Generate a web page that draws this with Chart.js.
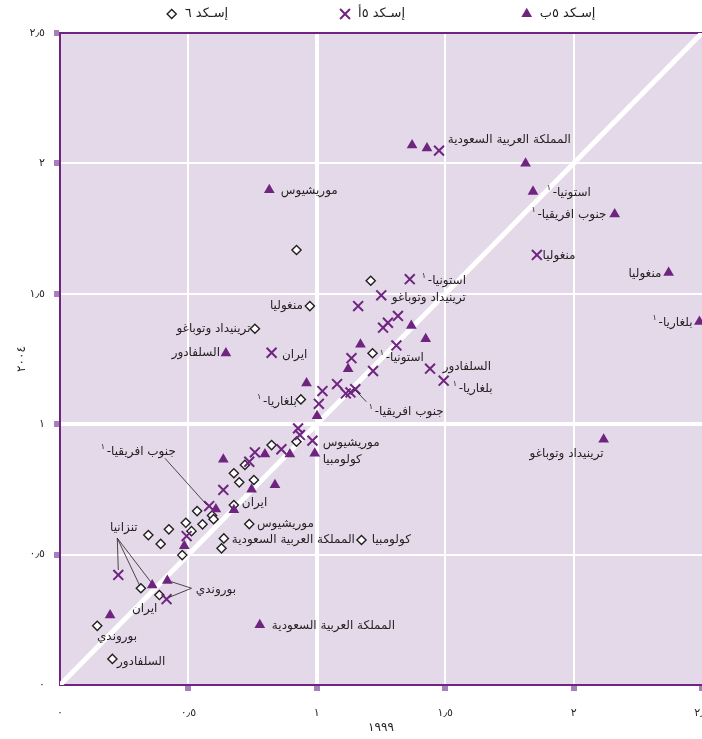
<!DOCTYPE html>
<html>
<head>
<meta charset="utf-8">
<script src="https://cdn.jsdelivr.net/npm/chart.js@4/dist/chart.umd.min.js"></script>
<style>
  html, body { margin: 0; padding: 0; background: #fff; }
  #wrap { width: 702px; height: 739px; position: relative; }
</style>
</head>
<body>
<div id="wrap"><canvas id="chart"></canvas></div>
<script>
// values: [1999, 2004]
const isced6 = [
  [0.921, 1.668], [1.210, 1.550], [0.973, 1.453], [0.759, 1.366], [1.217, 1.272],
  [0.938, 1.095], [0.921, 0.933], [0.824, 0.920], [0.720, 0.844], [0.677, 0.812],
  [0.698, 0.777], [0.755, 0.786], [0.677, 0.690], [0.592, 0.650], [0.598, 0.636],
  [0.534, 0.667], [0.490, 0.622], [0.555, 0.616], [0.512, 0.590], [0.424, 0.597],
  [0.344, 0.575], [0.392, 0.541], [0.476, 0.498], [0.629, 0.524], [0.638, 0.562],
  [0.737, 0.617], [1.174, 0.556], [0.315, 0.371], [0.387, 0.345], [0.145, 0.227],
  [0.204, 0.100]
];
const isced5a = [
  [1.476, 2.049], [1.857, 1.649], [1.362, 1.556], [1.251, 1.494], [1.161, 1.453],
  [1.316, 1.415], [1.277, 1.389], [1.258, 1.370], [1.310, 1.302], [0.824, 1.274],
  [1.135, 1.253], [1.219, 1.204], [1.441, 1.213], [1.494, 1.167], [1.079, 1.154],
  [1.022, 1.127], [1.113, 1.118], [1.131, 1.122], [1.150, 1.134], [1.008, 1.078],
  [0.927, 0.984], [0.934, 0.959], [0.983, 0.937], [0.862, 0.904], [0.759, 0.892],
  [0.737, 0.856], [0.636, 0.748], [0.581, 0.686], [0.493, 0.571], [0.227, 0.422],
  [0.415, 0.329]
];
const isced5b = [
  [1.371, 2.070], [1.429, 2.058], [1.813, 2.000], [1.842, 1.892], [2.160, 1.805],
  [2.370, 1.581], [2.490, 1.393], [0.815, 1.898], [1.368, 1.378], [1.424, 1.327],
  [1.170, 1.306], [0.646, 1.272], [1.122, 1.212], [0.960, 1.157], [1.001, 1.032],
  [2.117, 0.942], [0.636, 0.865], [0.798, 0.885], [0.895, 0.885], [0.992, 0.888],
  [0.837, 0.767], [0.746, 0.750], [0.607, 0.674], [0.677, 0.671], [0.484, 0.533],
  [0.359, 0.383], [0.418, 0.400], [0.195, 0.268], [0.778, 0.230]
];
const diagonal = [0, 2.5];
const tickLabels = ['٠', '٠٫٥', '١', '١٫٥', '٢', '٢٫٥'];
const seriesNames = ['إسـكد ٦', 'إسـكد ٥أ', 'إسـكد ٥ب'];
const xTitle = '١٩٩٩';
const yTitle = '٢٠٠٤';

// country labels: text, x, y (data units), side, superscript note
const labelText = [
  'موريشيوس', 'المملكة العربية السعودية', 'استونيا-', 'جنوب افريقيا-', 'منغوليا',
  'منغوليا', 'استونيا-', 'ترينيداد وتوباغو', 'منغوليا', 'ترينيداد وتوباغو',
  'بلغاريا-', 'السلفادور', 'ايران', 'استونيا-', 'السلفادور',
  'بلغاريا-', 'بلغاريا-', 'جنوب افريقيا-', 'موريشيوس', 'كولومبيا',
  'ترينيداد وتوباغو', 'جنوب افريقيا-', 'ايران', 'موريشيوس', 'المملكة العربية السعودية',
  'كولومبيا', 'تنزانيا', 'بوروندي', 'ايران', 'بوروندي',
  'السلفادور', 'المملكة العربية السعودية'
];
const labelX = [
  0.860, 1.510, 1.895, 2.128, 1.879,
  2.342, 1.409, 1.292, 0.946, 0.742,
  2.463, 0.623, 0.864, 1.245, 1.490,
  1.529, 0.922, 1.202, 1.023, 1.023,
  2.117, 0.451, 0.708, 0.767, 0.669,
  1.214, 0.195, 0.529, 0.280, 0.144,
  0.222, 0.825
];
const labelY = [
  1.894, 2.090, 1.888, 1.802, 1.645,
  1.576, 1.549, 1.483, 1.453, 1.366,
  1.387, 1.272, 1.265, 1.255, 1.218,
  1.134, 1.086, 1.048, 0.929, 0.863,
  0.888, 0.895, 0.697, 0.617, 0.556,
  0.556, 0.603, 0.364, 0.290, 0.185,
  0.089, 0.226
];
const labelSide = [
  'L', 'L', 'L', 'R', 'L',
  'R', 'L', 'L', 'R', 'R',
  'R', 'R', 'L', 'L', 'L',
  'L', 'R', 'L', 'L', 'L',
  'R', 'R', 'L', 'L', 'L',
  'L', 'L', 'L', 'L', 'L',
  'L', 'L'
];
const labelSup = [
  0, 0, 1, 1, 0,
  0, 1, 0, 0, 0,
  1, 0, 0, 1, 0,
  1, 1, 1, 0, 0,
  0, 1, 0, 0, 0,
  0, 0, 0, 0, 0,
  0, 0
];
// leader lines [x1, y1, x2, y2]
const leaders = [
  [0.223, 0.563, 0.227, 0.441],
  [0.223, 0.563, 0.311, 0.380],
  [0.223, 0.563, 0.353, 0.396],
  [0.512, 0.371, 0.434, 0.396],
  [0.512, 0.371, 0.425, 0.336],
  [0.409, 0.869, 0.572, 0.690],
  [1.150, 1.131, 1.193, 1.086]
];
// legend marker centres as a share of the plot width
const legendAt = [0.174, 0.444, 0.727];

const PURPLE = '#6f2480';
const INK = '#231f20';
const FONT = '"DejaVu Sans", sans-serif';

const toPts = arr => arr.map(p => ({ x: p[0], y: p[1] }));

const plotBg = {
  id: 'plotBg',
  beforeDraw(chart) {
    const { ctx, chartArea: a } = chart;
    ctx.save();
    ctx.fillStyle = '#e3d9e9';
    ctx.fillRect(a.left, a.top, a.right - a.left, a.bottom - a.top);
    ctx.restore();
  }
};

const countryLabels = {
  id: 'countryLabels',
  afterDatasetsDraw(chart) {
    const { ctx, scales: { x, y } } = chart;
    ctx.save();
    ctx.strokeStyle = INK;
    ctx.lineWidth = 0.8;
    leaders.forEach(l => {
      ctx.beginPath();
      ctx.moveTo(x.getPixelForValue(l[0]), y.getPixelForValue(l[1]));
      ctx.lineTo(x.getPixelForValue(l[2]), y.getPixelForValue(l[3]));
      ctx.stroke();
    });
    ctx.fillStyle = INK;
    ctx.direction = 'rtl';
    ctx.textAlign = 'left';
    ctx.textBaseline = 'middle';
    labelText.forEach((t, i) => {
      ctx.font = '12px ' + FONT;
      const w = ctx.measureText(t).width;
      const sw = labelSup[i] ? 6 : 0;
      const px = x.getPixelForValue(labelX[i]);
      const py = y.getPixelForValue(labelY[i]);
      const left = labelSide[i] === 'L' ? px : px - w - sw;
      ctx.fillText(t, left + sw, py);
      if (labelSup[i]) {
        ctx.font = '8px ' + FONT;
        ctx.fillText('١', left, py - 5);
      }
    });
    ctx.restore();
  }
};

const topLegend = {
  id: 'topLegend',
  afterDraw(chart) {
    const { ctx, chartArea: a } = chart;
    const sets = chart.data.datasets.filter(d => d.label);
    ctx.save();
    ctx.font = '13px ' + FONT;
    ctx.direction = 'rtl';
    ctx.textAlign = 'left';
    ctx.textBaseline = 'middle';
    const cy = 14;
    sets.forEach((d, i) => {
      const cx = a.left + legendAt[i] * (a.right - a.left);
      ctx.fillStyle = d.backgroundColor;
      ctx.strokeStyle = d.borderColor;
      ctx.lineWidth = d.borderWidth;
      Chart.helpers.drawPoint(ctx, {
        pointStyle: d.pointStyle, rotation: 0,
        radius: d.pointRadius, borderWidth: d.borderWidth
      }, cx, cy);
      ctx.fillStyle = INK;
      ctx.fillText(d.label, cx + 13, cy);
    });
    ctx.restore();
  }
};

const gridWidth = c => (c.tick.value === 1 ? 4 : 2);

new Chart(document.getElementById('chart'), {
  type: 'scatter',
  data: {
    datasets: [
      {
        label: seriesNames[0], data: toPts(isced6), order: 3,
        pointStyle: 'rectRot', pointRadius: 4.6, borderWidth: 1.4,
        borderColor: INK, backgroundColor: '#ffffff'
      },
      {
        label: seriesNames[1], data: toPts(isced5a), order: 2,
        pointStyle: 'crossRot', pointRadius: 7, borderWidth: 2,
        borderColor: PURPLE, backgroundColor: PURPLE
      },
      {
        label: seriesNames[2], data: toPts(isced5b), order: 1,
        pointStyle: 'triangle', pointRadius: 6.2, borderWidth: 0,
        borderColor: PURPLE, backgroundColor: PURPLE
      },
      {
        label: '', data: diagonal.map(v => ({ x: v, y: v })), order: 10,
        showLine: true, borderColor: '#ffffff', borderWidth: 5,
        pointRadius: 0, pointHoverRadius: 0, backgroundColor: '#ffffff'
      }
    ]
  },
  options: {
    responsive: true,
    maintainAspectRatio: false,
    animation: false,
    layout: { autoPadding: false, padding: { top: 33, left: 0, right: 0, bottom: 0 } },
    plugins: {
      legend: { display: false },
      tooltip: { enabled: false }
    },
    scales: {
      x: {
        type: 'linear', min: 0, max: 2.5,
        ticks: {
          stepSize: 0.5, padding: 16, color: INK,
          font: { family: FONT, size: 11 },
          callback: (v, i) => tickLabels[i]
        },
        grid: {
          color: c => (c.tick.value === 0 || c.tick.value === 2.5 ? 'rgba(0,0,0,0)' : '#ffffff'),
          lineWidth: gridWidth,
          tickLength: 6, tickWidth: 6,
          tickColor: c => (c.tick.value === 0 ? 'rgba(0,0,0,0)' : '#a67fbe')
        },
        border: { color: PURPLE, width: 2 },
        title: {
          display: true, text: xTitle, color: INK,
          font: { family: FONT, size: 12 }, padding: { top: 4, bottom: 4 }
        },
        afterFit: s => { s.height = 54; s.paddingLeft = 0; s.paddingRight = 0; }
      },
      y: {
        type: 'linear', min: 0, max: 2.5,
        ticks: {
          stepSize: 0.5, padding: 9, color: INK,
          font: { family: FONT, size: 11 },
          callback: (v, i) => tickLabels[i]
        },
        grid: {
          color: c => (c.tick.value === 0 ? 'rgba(0,0,0,0)' : c.tick.value === 2.5 ? PURPLE : '#ffffff'),
          lineWidth: gridWidth,
          tickLength: 6, tickWidth: 6,
          tickColor: c => (c.tick.value === 0 ? 'rgba(0,0,0,0)' : '#a67fbe')
        },
        border: { color: PURPLE, width: 2 },
        title: {
          display: true, text: yTitle, color: INK,
          font: { family: FONT, size: 12 }, padding: { top: 15, bottom: 4 }
        },
        afterFit: s => { s.width = 60; s.paddingTop = 0; s.paddingBottom = 0; }
      }
    }
  },
  plugins: [plotBg, countryLabels, topLegend]
});
</script>
</body>
</html>
